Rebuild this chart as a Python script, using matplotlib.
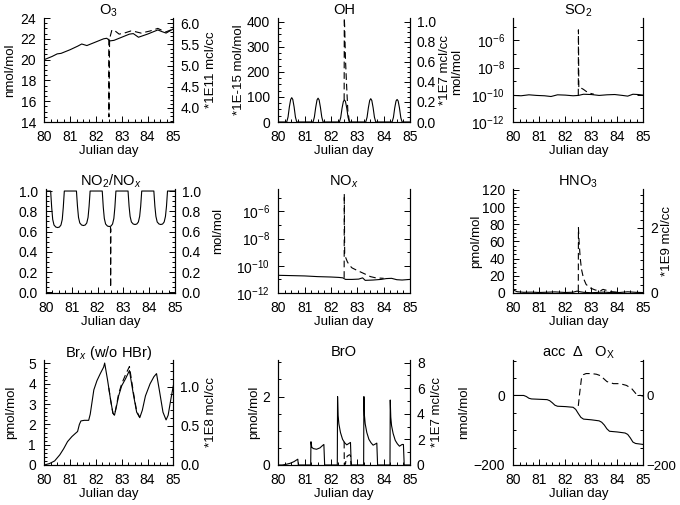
import matplotlib
matplotlib.use('Agg')
import matplotlib.pyplot as plt
from matplotlib.ticker import MultipleLocator, FixedLocator, NullFormatter, LogFormatterMathtext

plt.rcParams['font.family'] = ['Liberation Sans', 'DejaVu Sans']
plt.rcParams['mathtext.fontset'] = 'custom'
plt.rcParams['mathtext.rm'] = 'Liberation Sans'
plt.rcParams['mathtext.it'] = 'Liberation Sans:italic'
plt.rcParams['mathtext.bf'] = 'Liberation Sans:bold'
plt.rcParams['font.size'] = 9.5
plt.rcParams['xtick.labelsize'] = 10
plt.rcParams['ytick.labelsize'] = 10

# ---------------- data ----------------
# O3, nmol/mol
o3_t = [80.0, 80.3, 80.5, 80.65, 81.0, 81.3, 81.45, 81.65, 82.0, 82.3, 82.42, 82.55,
        82.7, 83.0, 83.3, 83.45, 83.65, 84.0, 84.4, 84.55, 84.72, 85.0]
o3 = [20.0, 20.3, 20.55, 20.6, 20.95, 21.3, 21.5, 21.35, 21.7, 22.0, 22.05, 21.8,
      21.85, 22.15, 22.45, 22.5, 22.15, 22.45, 22.85, 22.7, 22.55, 22.95]
o3_pt = [82.5, 82.505, 82.53, 82.62, 82.72, 82.9, 83.1, 83.35, 83.5, 83.75, 84.1,
         84.4, 84.7, 85.0]
o3_p = [22.0, 14.5, 22.0, 22.85, 22.8, 22.45, 22.55, 22.75, 22.7, 22.55, 22.75,
        23.0, 22.65, 22.95]

# OH, 1E-15 mol/mol
oh_t = [80.0, 80.32, 80.37, 80.42, 80.47, 80.51, 80.55, 80.6, 80.65, 80.7,
        81.32, 81.37, 81.42, 81.47, 81.51, 81.55, 81.6, 81.65, 81.7,
        82.32, 82.37, 82.42, 82.47, 82.51, 82.55, 82.6, 82.65, 82.7,
        83.32, 83.37, 83.42, 83.47, 83.51, 83.55, 83.6, 83.65, 83.7,
        84.32, 84.37, 84.42, 84.47, 84.51, 84.55, 84.6, 84.65, 84.7, 85.0]
oh = [0, 0, 20, 60, 90, 97, 90, 60, 20, 0,
      0, 20, 58, 88, 95, 88, 58, 20, 0,
      0, 18, 55, 82, 88, 82, 55, 18, 0,
      0, 19, 57, 86, 93, 86, 57, 19, 0,
      0, 18, 56, 84, 90, 84, 56, 18, 0, 0]
oh_pt = [82.5, 82.505, 82.52, 82.55, 82.6, 82.64, 82.7]
oh_p = [88, 415, 380, 250, 130, 45, 0]

# SO2, mol/mol
so2_t = [80.0, 80.3, 80.6, 80.9, 81.2, 81.45, 81.7, 82.0, 82.3, 82.5, 82.7, 83.0,
         83.3, 83.6, 83.9, 84.2, 84.4, 84.6, 84.8, 85.0]
so2 = [0.9e-10, 0.85e-10, 1.0e-10, 0.9e-10, 0.85e-10, 0.75e-10, 1.0e-10, 0.95e-10,
       0.85e-10, 0.9e-10, 1.1e-10, 1.05e-10, 0.9e-10, 1.0e-10, 1.05e-10, 0.9e-10,
       0.8e-10, 1.1e-10, 1.05e-10, 0.95e-10]
so2_pt = [82.5, 82.505, 82.52, 82.6, 82.7, 82.8, 82.95, 83.1]
so2_p = [0.9e-10, 6e-6, 3e-10, 3.2e-10, 2.5e-10, 1.8e-10, 1.3e-10, 1.1e-10]

# NO2/NOx ratio
nn_t = [80.0, 80.18, 80.22, 80.26, 80.31, 80.38, 80.45, 80.52, 80.58, 80.63, 80.67, 80.71,
        81.18, 81.22, 81.26, 81.31, 81.38, 81.45, 81.52, 81.58, 81.63, 81.67, 81.71,
        82.18, 82.22, 82.26, 82.31, 82.38, 82.45, 82.52, 82.58, 82.63, 82.67, 82.71,
        83.18, 83.22, 83.26, 83.31, 83.38, 83.45, 83.52, 83.58, 83.63, 83.67, 83.71,
        84.18, 84.22, 84.26, 84.31, 84.38, 84.45, 84.52, 84.58, 84.63, 84.67, 84.71, 85.0]
nn = [1.0, 1.0, 0.84, 0.72, 0.665, 0.645, 0.64, 0.645, 0.665, 0.72, 0.84, 1.0,
      1.0, 0.85, 0.74, 0.685, 0.665, 0.66, 0.665, 0.685, 0.74, 0.85, 1.0,
      1.0, 0.84, 0.73, 0.675, 0.655, 0.65, 0.655, 0.675, 0.73, 0.84, 1.0,
      1.0, 0.85, 0.75, 0.695, 0.675, 0.67, 0.675, 0.695, 0.75, 0.85, 1.0,
      1.0, 0.85, 0.75, 0.695, 0.675, 0.67, 0.675, 0.695, 0.75, 0.85, 1.0, 1.0]
nn_pt = [82.5, 82.505, 82.515]
nn_p = [0.65, 0.05, 0.63]

# NOx, mol/mol
nox_t = [80.0, 80.5, 81.0, 81.5, 82.0, 82.3, 82.45, 82.55, 82.8, 83.05, 83.2, 83.3,
         83.6, 83.9, 84.1, 84.3, 84.5, 84.7, 85.0]
nox = [2.0e-11, 1.9e-11, 1.8e-11, 1.6e-11, 1.5e-11, 1.4e-11, 1.3e-11, 1.0e-11, 1.0e-11,
       1.05e-11, 1.3e-11, 0.85e-11, 0.9e-11, 1.0e-11, 1.15e-11, 1.2e-11, 0.95e-11,
       0.9e-11, 1.0e-11]
nox_pt = [82.5, 82.505, 82.52, 82.56, 82.62, 82.7, 82.8, 83.0, 83.2, 83.35, 83.5, 83.7, 84.0]
nox_p = [1.3e-11, 2e-5, 8e-10, 4e-10, 2e-10, 1.1e-10, 7e-11, 4.5e-11, 3e-11, 2.2e-11,
         1.6e-11, 1.3e-11, 1.2e-11]

# HNO3, pmol/mol
hno3_t = [80.0, 80.15, 80.4, 80.7, 81.0, 81.3, 81.6, 82.0, 82.3, 82.45, 82.55, 82.7,
          83.0, 83.3, 83.5, 83.8, 84.1, 84.4, 84.7, 85.0]
hno3 = [3.5, 1.5, 0.8, 1.0, 0.6, 0.9, 1.3, 0.6, 0.9, 2.2, 1.5, 0.8, 0.3, 0.8, 1.0,
        0.4, 0.6, 1.4, 0.8, 0.5]
hno3_pt = [82.5, 82.505, 82.53, 82.57, 82.62, 82.7, 82.8, 82.95, 83.15, 83.35, 83.45,
           83.6, 83.8, 84.0]
hno3_p = [2.0, 76, 60, 42, 28, 17, 10, 6, 3.5, 2.5, 4.2, 3.0, 1.5, 1.0]

# Brx (w/o HBr), pmol/mol
brx_t = [80.0, 80.2, 80.4, 80.6, 80.75, 80.9, 81.07, 81.2, 81.29, 81.36, 81.42, 81.55,
         81.72, 81.78, 81.85, 81.92, 82.04, 82.17, 82.3, 82.34, 82.45, 82.57, 82.66,
         82.72, 82.8, 82.88, 83.0, 83.15, 83.3, 83.45, 83.58, 83.7, 83.8, 83.92, 84.1,
         84.25, 84.35, 84.47, 84.6, 84.72, 84.8, 84.9, 85.0]
brx = [0.0, 0.07, 0.2, 0.5, 0.8, 1.15, 1.4, 1.55, 1.65, 2.0, 2.17, 2.2,
       2.2, 2.5, 3.1, 3.7, 4.15, 4.5, 4.82, 5.02, 4.2, 3.2, 2.55,
       2.45, 2.9, 3.4, 3.9, 4.25, 4.65, 3.5, 2.6, 2.33, 2.7, 3.4, 4.0,
       4.35, 4.5, 3.6, 2.6, 2.22, 2.45, 3.2, 3.9]
brx_pt = [82.5, 82.57, 82.66, 82.72, 82.8, 82.88, 83.0, 83.15, 83.3, 83.45, 83.58, 83.7]
brx_p = [3.8, 3.2, 2.55, 2.45, 2.95, 3.5, 4.0, 4.45, 4.85, 3.6, 2.65, 2.35]

# BrO, pmol/mol
bro_t = [80.0, 80.15, 80.3, 80.45, 80.6, 80.7, 80.74, 80.76,
         81.23, 81.24, 81.27, 81.33, 81.45, 81.58, 81.68, 81.73, 81.76,
         82.24, 82.25, 82.27, 82.3, 82.36, 82.44, 82.52, 82.6, 82.7, 82.74, 82.77,
         83.24, 83.25, 83.27, 83.3, 83.36, 83.44, 83.52, 83.6, 83.7, 83.74, 83.77,
         84.24, 84.25, 84.27, 84.3, 84.36, 84.44, 84.52, 84.6, 84.7, 84.75, 84.78, 85.0]
bro = [0.0, 0.0, 0.02, 0.05, 0.1, 0.15, 0.17, 0.0,
       0.0, 0.68, 0.52, 0.48, 0.46, 0.5, 0.57, 0.6, 0.0,
       0.0, 2.0, 1.45, 1.2, 0.95, 0.75, 0.65, 0.59, 0.64, 0.66, 0.0,
       0.0, 2.0, 1.45, 1.2, 0.95, 0.75, 0.65, 0.58, 0.62, 0.64, 0.0,
       0.0, 1.9, 1.4, 1.15, 0.92, 0.72, 0.62, 0.55, 0.6, 0.6, 0.0, 0.0]
bro_pt = [82.5, 82.505, 82.55, 82.58, 82.62, 82.7, 82.74, 82.76]
bro_p = [0.68, 0.0, 0.03, 0.2, 0.26, 0.3, 0.28, 0.0]

# accumulated delta Ox, nmol/mol
acc_t = [80.0, 80.4, 80.5, 80.6, 80.7, 81.0, 81.3, 81.4, 81.5, 81.6, 81.7, 82.0, 82.3,
         82.4, 82.5, 82.6, 82.7, 83.0, 83.3, 83.4, 83.5, 83.6, 83.7, 84.0, 84.3, 84.4,
         84.5, 84.6, 84.7, 85.0]
acc = [0, 0, -3, -8, -10, -11, -12, -15, -21, -28, -31, -32, -34,
       -40, -52, -63, -68, -70, -73, -77, -85, -96, -103, -105, -108, -112,
       -122, -134, -138, -141]
acc_pt = [82.5, 82.55, 82.62, 82.7, 82.8, 83.0, 83.2, 83.35, 83.6, 83.85, 84.1, 84.35,
          84.55, 84.74, 85.0]
acc_p = [-30, 5, 48, 60, 63, 63, 61, 57, 40, 34, 34, 29, 20, 3, -2]

# ---------------- figure ----------------
W, H = 680, 505
fig = plt.figure(figsize=(W / 100, H / 100), dpi=100)
dash = (0, (6, 3.5))


def panel(x0, x1, y0, y1, title):
    ax = fig.add_axes([x0 / W, 1 - y1 / H, (x1 - x0) / W, (y1 - y0) / H])
    ax.set_xlim(80, 85)
    ax.xaxis.set_major_locator(MultipleLocator(1))
    ax.xaxis.set_minor_locator(MultipleLocator(0.25))
    ax2 = ax.twinx()
    for a in (ax, ax2):
        a.spines['top'].set_visible(False)
        for s in a.spines.values():
            s.set_linewidth(0.8)
        a.tick_params(which='both', direction='in', width=0.7)
        a.tick_params(which='major', length=4)
        a.tick_params(which='minor', length=2)
    ax.tick_params(axis='y', pad=6)
    ax2.tick_params(axis='y', pad=5)
    ax.tick_params(axis='x', pad=6, top=False)
    ax.text(0.5, 1 + 3.5 / (y1 - y0), title, transform=ax.transAxes,
            ha='center', va='baseline', fontsize=10.5)
    fig.text((x0 + x1) / 2 / W, 1 - (y1 + 29) / H, 'Julian day',
             ha='center', va='center')
    return ax, ax2


def ylab(x, y, s):
    fig.text(x / W, 1 - y / H, s, rotation=90, ha='center', va='center')


def lines(ax, t, v, tp, vp):
    ax.plot(t, v, color='black', lw=0.8)
    ax.plot(tp, vp, color='black', lw=0.8, linestyle=dash)


def logaxis(a):
    a.set_yscale('log')
    a.set_ylim(1e-12, 10 ** -4.35)
    a.yaxis.set_major_locator(FixedLocator([1e-12, 1e-10, 1e-8, 1e-6]))
    a.yaxis.set_minor_locator(FixedLocator([1e-11, 1e-9, 1e-7, 1e-5]))
    a.yaxis.set_minor_formatter(NullFormatter())


# row 1
ax, ax2 = panel(44.3, 173.3, 18, 122, r'O$_3$')
lines(ax, o3_t, o3, o3_pt, o3_p)
ax.set_ylim(14, 24)
ax.yaxis.set_major_locator(MultipleLocator(2))
ax.yaxis.set_minor_locator(MultipleLocator(0.5))
ax2.set_ylim(3.67, 6.12)
ax2.yaxis.set_major_locator(MultipleLocator(0.5))
ax2.yaxis.set_minor_locator(MultipleLocator(0.1))
ax2.yaxis.set_major_formatter('{x:.1f}')
ylab(10, 70, 'nmol/mol')
ylab(211, 70, '*1E11 mcl/cc')

ax, ax2 = panel(278.3, 410, 18, 122, 'OH')
lines(ax, oh_t, oh, oh_pt, oh_p)
ax.set_ylim(0, 415)
ax.yaxis.set_major_locator(MultipleLocator(100))
ax.yaxis.set_minor_locator(MultipleLocator(25))
ax2.set_ylim(0, 415 / 400)
ax2.yaxis.set_major_locator(MultipleLocator(0.2))
ax2.yaxis.set_minor_locator(MultipleLocator(0.05))
ax2.yaxis.set_major_formatter('{x:.1f}')
ylab(239, 70, '*1E-15 mol/mol')
ylab(445, 70, '*1E7 mcl/cc')

ax, ax2 = panel(513.3, 643.3, 18, 122, r'SO$_2$')
lines(ax, so2_t, so2, so2_pt, so2_p)
logaxis(ax)
ax.yaxis.set_major_formatter(LogFormatterMathtext())
logaxis(ax2)
ax2.yaxis.set_major_formatter(NullFormatter())
ylab(457, 72, 'mol/mol')

# row 2
ax, ax2 = panel(46, 175, 189, 293, r'NO$_2$/NO$_x$')
lines(ax, nn_t, nn, nn_pt, nn_p)
for a in (ax, ax2):
    a.set_ylim(-0.005, 1.02)
    a.yaxis.set_major_locator(MultipleLocator(0.2))
    a.yaxis.set_minor_locator(MultipleLocator(0.05))
    a.yaxis.set_major_formatter('{x:.1f}')

ax, ax2 = panel(278.3, 410, 189, 293, r'NO$_x$')
lines(ax, nox_t, nox, nox_pt, nox_p)
logaxis(ax)
ax.yaxis.set_major_formatter(LogFormatterMathtext())
logaxis(ax2)
ax2.yaxis.set_major_formatter(NullFormatter())
ylab(218, 231, 'mol/mol')

ax, ax2 = panel(513.3, 643.3, 189, 293, r'HNO$_3$')
lines(ax, hno3_t, hno3, hno3_pt, hno3_p)
ax.set_ylim(0, 121)
ax.yaxis.set_major_locator(MultipleLocator(20))
ax.yaxis.set_minor_locator(MultipleLocator(5))
ax2.set_ylim(0, 121 / 38)
ax2.yaxis.set_major_locator(MultipleLocator(2))
ax2.yaxis.set_minor_locator(MultipleLocator(0.25))
ylab(476, 241, 'pmol/mol')
ylab(667, 241, '*1E9 mcl/cc')

# row 3
ax, ax2 = panel(44.3, 173.3, 360, 465, r'Br$_x$ (w/o HBr)')
lines(ax, brx_t, brx, brx_pt, brx_p)
ax.set_ylim(0, 5.17)
ax.yaxis.set_major_locator(MultipleLocator(1))
ax.yaxis.set_minor_locator(MultipleLocator(0.2))
ax2.set_ylim(0, 5.17 * 0.259)
ax2.yaxis.set_major_locator(MultipleLocator(0.5))
ax2.yaxis.set_minor_locator(MultipleLocator(0.1))
ax2.yaxis.set_major_formatter('{x:.1f}')
ylab(11, 412, 'pmol/mol')
ylab(211, 412, '*1E8 mcl/cc')

ax, ax2 = panel(278.3, 410, 360, 465, 'BrO')
lines(ax, bro_t, bro, bro_pt, bro_p)
ax.set_ylim(0, 3.07)
ax.yaxis.set_major_locator(MultipleLocator(2))
ax.yaxis.set_minor_locator(MultipleLocator(0.5))
ax2.set_ylim(0, 8.2)
ax2.yaxis.set_major_locator(MultipleLocator(2))
ax2.yaxis.set_minor_locator(MultipleLocator(1))
ylab(254, 412, 'pmol/mol')
ylab(437, 412, '*1E7 mcl/cc')

ax, ax2 = panel(513.3, 643.3, 360, 465, r'acc  $\Delta$   O$_\mathrm{X}$')
lines(ax, acc_t, acc, acc_pt, acc_p)
for a in (ax, ax2):
    a.set_ylim(-200, 102)
    a.yaxis.set_major_locator(MultipleLocator(200))
    a.yaxis.set_minor_locator(MultipleLocator(50))
ax2.tick_params(axis='y', pad=2, labelsize=9.5)
ylab(464, 412, 'nmol/mol')

fig.savefig('out.png', dpi=100)
